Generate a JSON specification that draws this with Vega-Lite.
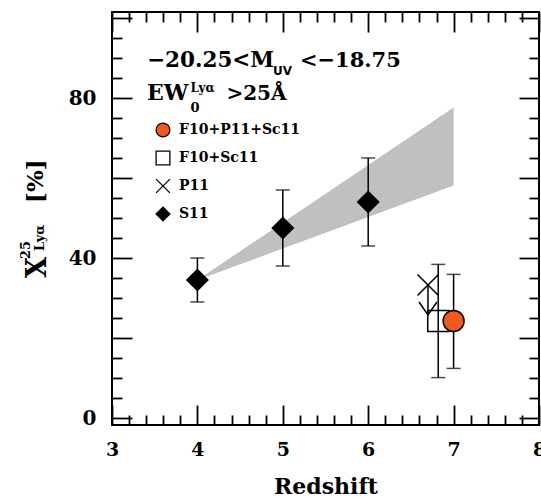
{
  "$schema": "https://vega.github.io/schema/vega-lite/v6.json",
  "width": 427,
  "height": 413,
  "autosize": {"type": "none"},
  "padding": {"left": 112, "top": 12, "right": 2, "bottom": 74},
  "background": "white",
  "config": {
    "view": {"stroke": "black", "strokeWidth": 2},
    "axis": {
      "domain": false,
      "grid": false,
      "ticks": true,
      "tickColor": "black",
      "tickWidth": 1.8,
      "labelFont": "DejaVu Serif",
      "labelFontWeight": "bold",
      "labelFontSize": 20,
      "labelColor": "black",
      "labelOverlap": false,
      "labelFlush": false,
      "titleFont": "DejaVu Serif",
      "titleFontWeight": "bold",
      "titleFontSize": 22,
      "titleColor": "black"
    }
  },
  "datasets": {
    "band": [
      {"z": 4, "lo": 34.5, "hi": 34.5},
      {"z": 7, "lo": 58.1, "hi": 77.6}
    ],
    "errs": [
      {"z": 4, "lo": 29, "hi": 40},
      {"z": 5, "lo": 38, "hi": 57},
      {"z": 6, "lo": 43, "hi": 65},
      {"z": 6.82, "lo": 10.1, "hi": 38.4},
      {"z": 7, "lo": 12.4, "hi": 35.9}
    ],
    "arrow": [
      {"z": 6.7, "top": 33.25, "tip": 25.75}
    ],
    "pts": [
      {"sample": "S11", "z": 4, "v": 34.5},
      {"sample": "S11", "z": 5, "v": 47.5},
      {"sample": "S11", "z": 6, "v": 54},
      {"sample": "P11", "z": 6.7, "v": 33.25},
      {"sample": "F10+Sc11", "z": 6.82, "v": 24.25},
      {"sample": "F10+P11+Sc11", "z": 7, "v": 24.25}
    ],
    "one": [{}]
  },
  "layer": [
    {
      "data": {"name": "band"},
      "mark": {"type": "area", "color": "#c0c0c0", "opacity": 1},
      "encoding": {
        "x": {
          "field": "z", "type": "quantitative",
          "scale": {"domain": [3, 8], "nice": false, "zero": false},
          "axis": {
            "orient": "bottom",
            "values": [3, 4, 5, 6, 7, 8],
            "format": "d",
            "tickSize": -20,
            "labelFontSize": 19,
            "labelPadding": 35,
            "title": "Redshift",
            "titlePadding": 17
          }
        },
        "y": {
          "field": "lo", "type": "quantitative",
          "scale": {"domain": [-1.75, 101.5], "nice": false, "zero": false},
          "axis": {
            "orient": "left",
            "values": [0, 20, 40, 60, 80, 100],
            "labelExpr": "datum.value % 40 === 0 ? format(datum.value, 'd') : ''",
            "tickSize": -20,
            "labelPadding": 36,
            "title": null
          }
        },
        "y2": {"field": "hi"}
      }
    },
    {
      "data": {"name": "errs"},
      "mark": {
        "type": "errorbar",
        "ticks": {"size": 14, "thickness": 1.5, "color": "black"},
        "rule": {"strokeWidth": 1.5, "color": "black"}
      },
      "encoding": {
        "x": {
          "field": "z", "type": "quantitative",
          "scale": {"domain": [3, 8], "nice": false, "zero": false},
          "axis": {
            "orient": "bottom",
            "values": [3.2,3.4,3.6,3.8,4.2,4.4,4.6,4.8,5.2,5.4,5.6,5.8,6.2,6.4,6.6,6.8,7.2,7.4,7.6,7.8],
            "labels": false,
            "tickSize": -10,
            "title": null
          }
        },
        "y": {
          "field": "lo", "type": "quantitative",
          "scale": {"domain": [-1.75, 101.5], "nice": false, "zero": false},
          "axis": {
            "orient": "left",
            "values": [5,10,15,25,30,35,45,50,55,65,70,75,85,90,95],
            "labels": false,
            "tickSize": -10,
            "title": null
          }
        },
        "y2": {"field": "hi"}
      }
    },
    {
      "data": {"name": "arrow"},
      "mark": {"type": "rule", "color": "black", "strokeWidth": 1.5},
      "encoding": {
        "x": {
          "field": "z", "type": "quantitative",
          "scale": {"domain": [3, 8], "nice": false, "zero": false},
          "axis": {
            "orient": "top",
            "values": [3, 4, 5, 6, 7, 8],
            "labels": false,
            "tickSize": -20,
            "title": null
          }
        },
        "y": {
          "field": "top", "type": "quantitative",
          "scale": {"domain": [-1.75, 101.5], "nice": false, "zero": false},
          "axis": {
            "orient": "right",
            "values": [0, 20, 40, 60, 80, 100],
            "labels": false,
            "tickSize": -20,
            "title": null
          }
        },
        "y2": {"field": "tip"}
      }
    },
    {
      "data": {"name": "arrow"},
      "mark": {"type": "point", "shape": "M-1,-1.45L0,0L1,-1.45", "size": 324, "stroke": "black", "strokeWidth": 1.5, "fill": "transparent", "opacity": 1},
      "encoding": {
        "x": {
          "field": "z", "type": "quantitative",
          "scale": {"domain": [3, 8], "nice": false, "zero": false},
          "axis": {
            "orient": "top",
            "values": [3.2,3.4,3.6,3.8,4.2,4.4,4.6,4.8,5.2,5.4,5.6,5.8,6.2,6.4,6.6,6.8,7.2,7.4,7.6,7.8],
            "labels": false,
            "tickSize": -10,
            "title": null
          }
        },
        "y": {
          "field": "tip", "type": "quantitative",
          "scale": {"domain": [-1.75, 101.5], "nice": false, "zero": false},
          "axis": {
            "orient": "right",
            "values": [5,10,15,25,30,35,45,50,55,65,70,75,85,90,95],
            "labels": false,
            "tickSize": -10,
            "title": null
          }
        }
      }
    },
    {
      "data": {"name": "pts"},
      "mark": {"type": "point", "filled": true, "strokeWidth": 1.5, "opacity": 1, "size": 440},
      "encoding": {
        "x": {"field": "z", "type": "quantitative", "scale": {"domain": [3, 8], "nice": false, "zero": false}, "axis": null},
        "y": {"field": "v", "type": "quantitative", "scale": {"domain": [-1.75, 101.5], "nice": false, "zero": false}, "axis": null},
        "shape": {
          "field": "sample", "type": "nominal",
          "scale": {"domain": ["F10+P11+Sc11", "F10+Sc11", "P11", "S11"], "range": ["circle", "square", "M-1,-1L1,1M-1,1L1,-1", "diamond"]},
          "legend": {
            "title": null, "orient": "none", "legendX": 43, "legendY": 110, "padding": 0,
            "symbolSize": 190, "symbolStrokeWidth": 1.3,
            "labelFont": "DejaVu Serif", "labelFontWeight": "bold", "labelFontSize": 14, "labelColor": "black",
            "labelOffset": 8, "rowPadding": 8
          }
        },
        "fill": {
          "field": "sample", "type": "nominal",
          "scale": {"domain": ["F10+P11+Sc11", "F10+Sc11", "P11", "S11"], "range": ["#f05a1e", "transparent", "transparent", "black"]},
          "legend": {
            "title": null, "orient": "none", "legendX": 43, "legendY": 110, "padding": 0,
            "symbolSize": 190, "symbolStrokeWidth": 1.3,
            "labelFont": "DejaVu Serif", "labelFontWeight": "bold", "labelFontSize": 14, "labelColor": "black",
            "labelOffset": 8, "rowPadding": 8
          }
        },
        "stroke": {
          "field": "sample", "type": "nominal",
          "scale": {"domain": ["F10+P11+Sc11", "F10+Sc11", "P11", "S11"], "range": ["black", "black", "black", "black"]},
          "legend": {
            "title": null, "orient": "none", "legendX": 43, "legendY": 110, "padding": 0,
            "symbolSize": 190, "symbolStrokeWidth": 1.3,
            "labelFont": "DejaVu Serif", "labelFontWeight": "bold", "labelFontSize": 14, "labelColor": "black",
            "labelOffset": 8, "rowPadding": 8
          }
        }
      }
    },
    {
      "data": {"name": "one"},
      "mark": {"type": "text", "text": "−20.25<M", "font": "DejaVu Serif", "fontWeight": "bold", "fontSize": 21.5, "align": "left", "baseline": "alphabetic", "color": "black"},
      "encoding": {
        "x": {"datum": 3.41, "type": "quantitative", "scale": {"domain": [3, 8], "nice": false, "zero": false}, "axis": null},
        "y": {"datum": 87.75, "type": "quantitative", "scale": {"domain": [-1.75, 101.5], "nice": false, "zero": false}, "axis": null}
      }
    },
    {
      "data": {"name": "one"},
      "mark": {"type": "text", "text": "UV", "font": "DejaVu Sans", "fontWeight": "bold", "fontSize": 12, "align": "left", "baseline": "alphabetic", "color": "black"},
      "encoding": {
        "x": {"datum": 4.885, "type": "quantitative", "scale": {"domain": [3, 8], "nice": false, "zero": false}, "axis": null},
        "y": {"datum": 85.75, "type": "quantitative", "scale": {"domain": [-1.75, 101.5], "nice": false, "zero": false}, "axis": null}
      }
    },
    {
      "data": {"name": "one"},
      "mark": {"type": "text", "text": "<−18.75", "font": "DejaVu Serif", "fontWeight": "bold", "fontSize": 21, "align": "left", "baseline": "alphabetic", "color": "black"},
      "encoding": {
        "x": {"datum": 5.2, "type": "quantitative", "scale": {"domain": [3, 8], "nice": false, "zero": false}, "axis": null},
        "y": {"datum": 87.75, "type": "quantitative", "scale": {"domain": [-1.75, 101.5], "nice": false, "zero": false}, "axis": null}
      }
    },
    {
      "data": {"name": "one"},
      "mark": {"type": "text", "text": "EW", "font": "DejaVu Serif", "fontWeight": "bold", "fontSize": 22, "align": "left", "baseline": "alphabetic", "color": "black"},
      "encoding": {
        "x": {"datum": 3.41, "type": "quantitative", "scale": {"domain": [3, 8], "nice": false, "zero": false}, "axis": null},
        "y": {"datum": 79.5, "type": "quantitative", "scale": {"domain": [-1.75, 101.5], "nice": false, "zero": false}, "axis": null}
      }
    },
    {
      "data": {"name": "one"},
      "mark": {"type": "text", "text": "0", "font": "DejaVu Serif", "fontWeight": "bold", "fontSize": 13, "align": "left", "baseline": "alphabetic", "color": "black"},
      "encoding": {
        "x": {"datum": 3.92, "type": "quantitative", "scale": {"domain": [3, 8], "nice": false, "zero": false}, "axis": null},
        "y": {"datum": 76.5, "type": "quantitative", "scale": {"domain": [-1.75, 101.5], "nice": false, "zero": false}, "axis": null}
      }
    },
    {
      "data": {"name": "one"},
      "mark": {"type": "text", "text": "Lyα", "font": "DejaVu Serif", "fontWeight": "bold", "fontSize": 12, "align": "left", "baseline": "alphabetic", "color": "black"},
      "encoding": {
        "x": {"datum": 3.92, "type": "quantitative", "scale": {"domain": [3, 8], "nice": false, "zero": false}, "axis": null},
        "y": {"datum": 81.5, "type": "quantitative", "scale": {"domain": [-1.75, 101.5], "nice": false, "zero": false}, "axis": null}
      }
    },
    {
      "data": {"name": "one"},
      "mark": {"type": "text", "text": ">25Å", "font": "DejaVu Serif", "fontWeight": "bold", "fontSize": 20, "align": "left", "baseline": "alphabetic", "color": "black"},
      "encoding": {
        "x": {"datum": 4.34, "type": "quantitative", "scale": {"domain": [3, 8], "nice": false, "zero": false}, "axis": null},
        "y": {"datum": 79.5, "type": "quantitative", "scale": {"domain": [-1.75, 101.5], "nice": false, "zero": false}, "axis": null}
      }
    },
    {
      "data": {"name": "one"},
      "mark": {"type": "text", "text": "X", "font": "DejaVu Serif", "fontWeight": "bold", "fontSize": 27, "angle": 270, "align": "left", "baseline": "alphabetic", "color": "black"},
      "encoding": {
        "x": {"datum": 2.227, "type": "quantitative", "scale": {"domain": [3, 8], "nice": false, "zero": false}, "axis": null},
        "y": {"datum": 35, "type": "quantitative", "scale": {"domain": [-1.75, 101.5], "nice": false, "zero": false}, "axis": null}
      }
    },
    {
      "data": {"name": "one"},
      "mark": {"type": "text", "text": "25", "font": "DejaVu Serif", "fontWeight": "bold", "fontSize": 13, "angle": 270, "align": "left", "baseline": "alphabetic", "color": "black"},
      "encoding": {
        "x": {"datum": 2.04, "type": "quantitative", "scale": {"domain": [3, 8], "nice": false, "zero": false}, "axis": null},
        "y": {"datum": 39.75, "type": "quantitative", "scale": {"domain": [-1.75, 101.5], "nice": false, "zero": false}, "axis": null}
      }
    },
    {
      "data": {"name": "one"},
      "mark": {"type": "text", "text": "Lyα", "font": "DejaVu Serif", "fontWeight": "bold", "fontSize": 13, "angle": 270, "align": "left", "baseline": "alphabetic", "color": "black"},
      "encoding": {
        "x": {"datum": 2.204, "type": "quantitative", "scale": {"domain": [3, 8], "nice": false, "zero": false}, "axis": null},
        "y": {"datum": 41.75, "type": "quantitative", "scale": {"domain": [-1.75, 101.5], "nice": false, "zero": false}, "axis": null}
      }
    },
    {
      "data": {"name": "one"},
      "mark": {"type": "text", "text": "[%]", "font": "DejaVu Serif", "fontWeight": "bold", "fontSize": 23, "angle": 270, "align": "left", "baseline": "alphabetic", "color": "black"},
      "encoding": {
        "x": {"datum": 2.192, "type": "quantitative", "scale": {"domain": [3, 8], "nice": false, "zero": false}, "axis": null},
        "y": {"datum": 53.75, "type": "quantitative", "scale": {"domain": [-1.75, 101.5], "nice": false, "zero": false}, "axis": null}
      }
    }
  ],
  "resolve": {"axis": {"x": "independent", "y": "independent"}}
}
